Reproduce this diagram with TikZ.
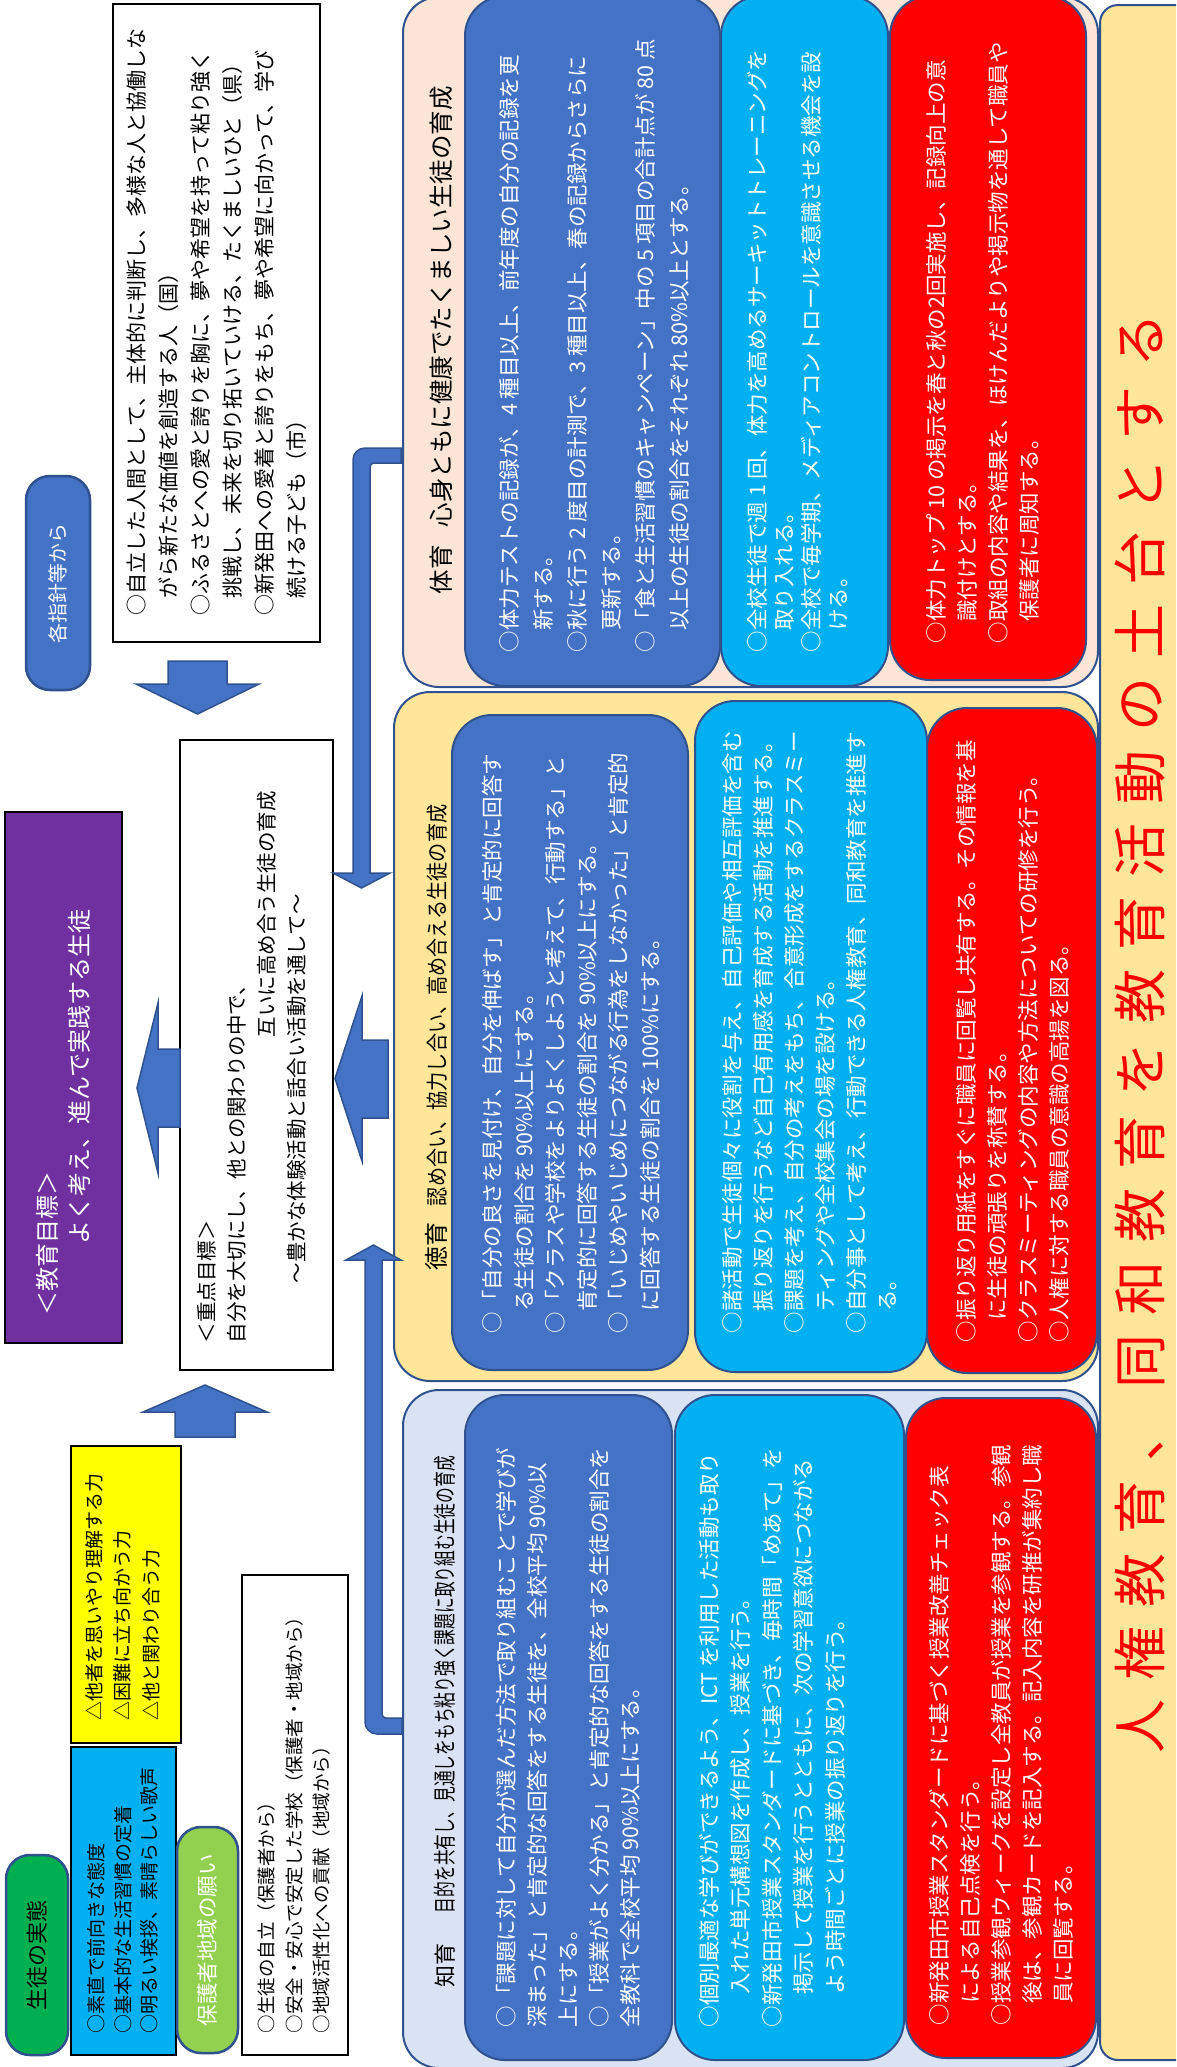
\documentclass[tikz,border=0pt]{standalone}
\usepackage{fontspec}
\setmainfont{Noto Sans CJK JP}
\usepackage{graphicx}
\definecolor{bord}{HTML}{2F528F}
\definecolor{dblue}{HTML}{4472C4}
\definecolor{cyanb}{HTML}{00B0F0}
\definecolor{redb}{HTML}{FF0000}
\definecolor{peach}{HTML}{FBE5D6}
\definecolor{lyel}{HTML}{FFE699}
\definecolor{lblue}{HTML}{DAE3F3}
\definecolor{purp}{HTML}{7030A0}
\definecolor{grn}{HTML}{00B050}
\definecolor{lgrn}{HTML}{92D050}
\definecolor{yelc}{HTML}{FFFF00}
\newcommand{\fsz}[2]{\fontsize{#1}{#2}\selectfont}
\newcommand{\drawbox}[6]{\node[#6,anchor=north west,inner sep=0pt,outer sep=0pt,minimum width={(#4)*1pt-(#2)*1pt},minimum height={(#5)*1pt-(#3)*1pt}] (#1) at (#2,#3) {};}
\newcommand{\tnode}[5]{\node[txt,#4] (#1) at (#2,#3) {#5};}
\begin{document}
\begin{tikzpicture}[x=1pt,y=-1pt,
  txt/.style={rotate=90,anchor=north west,align=left,inner sep=0pt,outer sep=0pt},
  ctxt/.style={rotate=90,anchor=center,align=center,inner sep=0pt},
  panel/.style={draw=bord,line width=2pt,rounded corners=36pt},
  inbox/.style={draw=bord,line width=2pt,rounded corners=40pt},
  sqbox/.style={draw=black,line width=2.5pt},
  pill/.style={draw=bord,line width=2.5pt,rounded corners=24pt},
  blk/.style={fill=dblue,draw=bord,line width=1.5pt,line join=miter}
]
\useasboundingbox (0,0) rectangle (1176,2067);
\clip (0,0) rectangle (1176,2067);
\fill[white] (0,0) rectangle (1176,2067);

% panels
\drawbox{pT}{403}{-3}{1098}{687}{panel,fill=peach}
\drawbox{pM}{394}{692}{1098}{1381}{panel,fill=lyel}
\drawbox{pC}{403}{1390}{1098}{2068}{panel,fill=lblue}
\drawbox{ban}{1100}{5}{1200}{2060}{panel,fill=lyel,rounded corners=18pt}

% inner boxes
\drawbox{tB}{465}{-4}{720}{686}{inbox,fill=dblue}
\drawbox{tC}{721}{-4}{888}{686}{inbox,fill=cyanb}
\drawbox{tR}{890}{-4}{1086}{680}{inbox,fill=redb}
\drawbox{mB}{452}{715}{688}{1370}{inbox,fill=dblue}
\drawbox{mC}{695}{701}{927}{1372}{inbox,fill=cyanb}
\drawbox{mR}{927}{708}{1097}{1373}{inbox,fill=redb}
\drawbox{cB}{465}{1395}{672}{2060}{inbox,fill=dblue}
\drawbox{cC}{675}{1395}{904}{2060}{inbox,fill=cyanb}
\drawbox{cR}{906}{1398}{1096}{2058}{inbox,fill=redb}

% left column
\drawbox{tl}{113}{4}{320}{642}{sqbox,fill=white}
\drawbox{kaku}{26}{476}{90}{690}{pill,fill=dblue}
\drawbox{goal}{5}{812}{122}{1343}{sqbox,fill=purp}
\drawbox{focus}{180}{740}{333}{1370}{sqbox,fill=white}
\drawbox{yelbox}{71}{1446}{181}{1743}{sqbox,fill=yelc}
\drawbox{cybox}{71}{1747}{176}{2055}{sqbox,fill=cyanb}
\drawbox{sei}{6}{1855}{68}{2055}{pill,fill=grn}
\drawbox{hog}{177}{1827}{238}{2053}{pill,fill=lgrn}
\drawbox{wish}{242}{1575}{348}{2055}{sqbox,fill=white}

% block arrows
\draw[blk] (168,661) -- (227,661) -- (227,684) -- (259,684) -- (197.5,714) -- (136,684) -- (168,684) -- cycle;
\draw[blk] (180,1049) -- (158,1049) -- (158,1003) -- (137,1088) -- (158,1173) -- (158,1127) -- (180,1127) -- cycle;
\draw[blk] (175,1437) -- (175,1412) -- (143,1412) -- (205,1385) -- (267,1412) -- (235,1412) -- (235,1437) -- cycle;
\draw[blk] (388,1040) -- (362,1040) -- (362,996) -- (335,1078.5) -- (362,1161) -- (362,1118) -- (388,1118) -- cycle;
% bent connectors
\draw[blk] (401,448) [rounded corners=12pt] -- (353,448) [sharp corners] -- (353,873) -- (333,873) -- (361.5,888) -- (390,873) -- (370,873) [rounded corners=4pt] -- (370,463) [sharp corners] -- (401,463) -- cycle;
\draw[blk] (402,1734) [rounded corners=12pt] -- (365,1734) [sharp corners] -- (365,1260) -- (346,1260) -- (373.5,1245) -- (401,1260) -- (382,1260) [rounded corners=4pt] -- (382,1718) [sharp corners] -- (402,1718) -- cycle;

% texts left column
\tnode{tltx}{126.5}{615}{font={\fsz{21}{32}}}{○自立した人間として、主体的に判断し、多様な人と協働しな\\
\hspace*{0.8em}がら新たな価値を創造する人（国）\\
○ふるさとへの愛と誇りを胸に、夢や希望を持って粘り強く\\
\hspace*{0.8em}挑戦し、未来を切り拓いていける、たくましいひと（県）\\
○新発田への愛着と誇りをもち、夢や希望に向かって、学び\\
\hspace*{0.8em}続ける子ども（市）}
\node[ctxt,text=white,font={\fsz{20}{20}}] (kakutx) at (kaku.center) {各指針等から};
\tnode{goaltx}{36}{1315}{text=white,font={\fsz{24}{32}}}{＜教育目標＞\\
\hspace*{71pt}よく考え、進んで実践する生徒}
\tnode{focustx}{197}{1343}{font={\fsz{20.5}{30}}}{＜重点目標＞\\
自分を大切にし、他との関わりの中で、\\
\hspace*{306pt}互いに高め合う生徒の育成\\
\hspace*{60pt}～豊かな体験活動と話合い活動を通して～}
\node[ctxt,font={\fsz{22}{22}}] (seitx) at (sei.center) {生徒の実態};
\node[ctxt,text=white,font={\fsz{21.5}{22}}] (hogtx) at (hog.center) {保護者地域の願い};
\tnode{cytx}{87.5}{2033}{font={\fsz{19}{26.5}}}{○素直で前向きな態度\\
○基本的な生活習慣の定着\\
○明るい挨拶、素晴らしい歌声}
\tnode{yeltx}{85.5}{1720}{font={\fsz{19}{28.5}}}{△他者を思いやり理解する力\\
△困難に立ち向かう力\\
△他と関わり合う力}
\tnode{wishtx}{257.75}{2033}{font={\fsz{18.5}{27.5}}}{○生徒の自立（保護者から）\\
○安全・安心で安定した学校（保護者・地域から）\\
○地域活性化への貢献（地域から）}

% titles
\tnode{tTitle}{429.75}{594}{font={\fsz{24.5}{30}}}{体育\hspace{18pt}心身ともに健康でたくましい生徒の育成}
\tnode{mTitle}{425}{1270}{font={\fsz{24}{30}}}{徳育\hspace{16pt}{\fsz{22}{30}\scalebox{0.87}[1]{認め合い、協力し合い、高め合える生徒の育成}}}
\tnode{cTitle}{434}{1987}{font={\fsz{22}{30}}}{知育\hspace{30pt}{\fsz{23}{30}\scalebox{0.685}[1]{目的を共有し、見通しをもち粘り強く課題に取り組む生徒の育成}}}

% 体育 texts
\tnode{tBtx}{499.25}{652}{text=white,font={\fsz{21.5}{34}}}{○体力テストの記録が、4 種目以上、前年度の自分の記録を更\\
\hspace*{1em}新する。\\
○秋に行う 2 度目の計測で、3 種目以上、春の記録からさらに\\
\hspace*{1em}更新する。\\
○「食と生活習慣のキャンペーン」中の 5 項目の合計点が 80 点\\
\hspace*{1em}以上の生徒の割合をそれぞれ 80\%以上とする。}
\tnode{tCtx}{747.25}{652}{text=white,font={\fsz{21.5}{27}}}{○全校生徒で週 1 回、体力を高めるサーキットトレーニングを\\
\hspace*{1em}取り入れる。\\
○全校で毎学期、メディアコントロールを意識させる機会を設\\
\hspace*{1em}ける。}
\tnode{tRtx}{926.25}{643}{text=white,font={\fsz{21.5}{31}}}{○体力トップ 10 の掲示を春と秋の2回実施し、記録向上の意\\
\hspace*{1em}識付けとする。\\
○取組の内容や結果を、ほけんだよりや掲示物を通して職員や\\
\hspace*{1em}保護者に周知する。}

% 徳育 texts
\tnode{mBtx}{482.25}{1333}{text=white,font={\fsz{21.5}{31.5}}}{○「自分の良さを見付け、自分を伸ばす」と肯定的に回答す\\
\hspace*{1em}る生徒の割合を 90\%以上にする。\\
○「クラスや学校をよりよくしようと考えて、行動する」と\\
\hspace*{1em}肯定的に回答する生徒の割合を 90\%以上にする。\\
○「いじめやいじめにつながる行為をしなかった」と肯定的\\
\hspace*{1em}に回答する生徒の割合を 100\%にする。}
\tnode{mCtx}{722.25}{1333}{text=white,font={\fsz{21.5}{31}}}{○諸活動で生徒個々に役割を与え、自己評価や相互評価を含む\\
\hspace*{1em}振り返りを行うなど自己有用感を育成する活動を推進する。\\
○課題を考え、自分の考えをもち、合意形成をするクラスミー\\
\hspace*{1em}ティングや全校集会の場を設ける。\\
○自分事として考え、行動できる人権教育、同和教育を推進す\\
\hspace*{1em}る。}
\tnode{mRtx}{956.25}{1342}{text=white,font={\fsz{21.5}{31}}}{○振り返り用紙をすぐに職員に回覧し共有する。その情報を基\\
\hspace*{1em}に生徒の頑張りを称賛する。\\
○クラスミーティングの内容や方法についての研修を行う。\\
○人権に対する職員の意識の高揚を図る。}

% 知育 texts
\tnode{cBtx}{496.25}{2027}{text=white,font={\fsz{21.5}{31}}}{○「課題に対して自分が選んだ方法で取り組むことで学びが\\
深まった」と肯定的な回答をする生徒を、全校平均 90\%以\\
上にする。\\
○「授業がよく分かる」と肯定的な回答をする生徒の割合を\\
全教科で全校平均 90\%以上にする。}
\tnode{cCtx}{699.25}{2027}{text=white,font={\fsz{21.5}{31.5}}}{○個別最適な学びができるよう、ICT を利用した活動も取り\\
\hspace*{1.5em}入れた単元構想図を作成し、授業を行う。\\
○新発田市授業スタンダードに基づき、毎時間「めあて」を\\
\hspace*{1.5em}掲示して授業を行うとともに、次の学習意欲につながる\\
\hspace*{1.5em}よう時間ごとに授業の振り返りを行う。}
\tnode{cRtx}{929.25}{2025}{text=white,font={\fsz{21.5}{31}}}{○新発田市授業スタンダードに基づく授業改善チェック表\\
\hspace*{1em}による自己点検を行う。\\
○授業参観ウィークを設定し全教員が授業を参観する。参観\\
\hspace*{1em}後は、参観カードを記入する。記入内容を研推が集約し職\\
\hspace*{1em}員に回覧する。}

% banner
\node[ctxt,text=redb,font={\fsz{54}{54}}] (bantx) at (1140,1033) {\makebox[1440pt]{人\hfill 権\hfill 教\hfill 育\hfill 、\hfill 同\hfill 和\hfill 教\hfill 育\hfill を\hfill 教\hfill 育\hfill 活\hfill 動\hfill の\hfill 土\hfill 台\hfill と\hfill す\hfill る}};
\end{tikzpicture}
\end{document}
